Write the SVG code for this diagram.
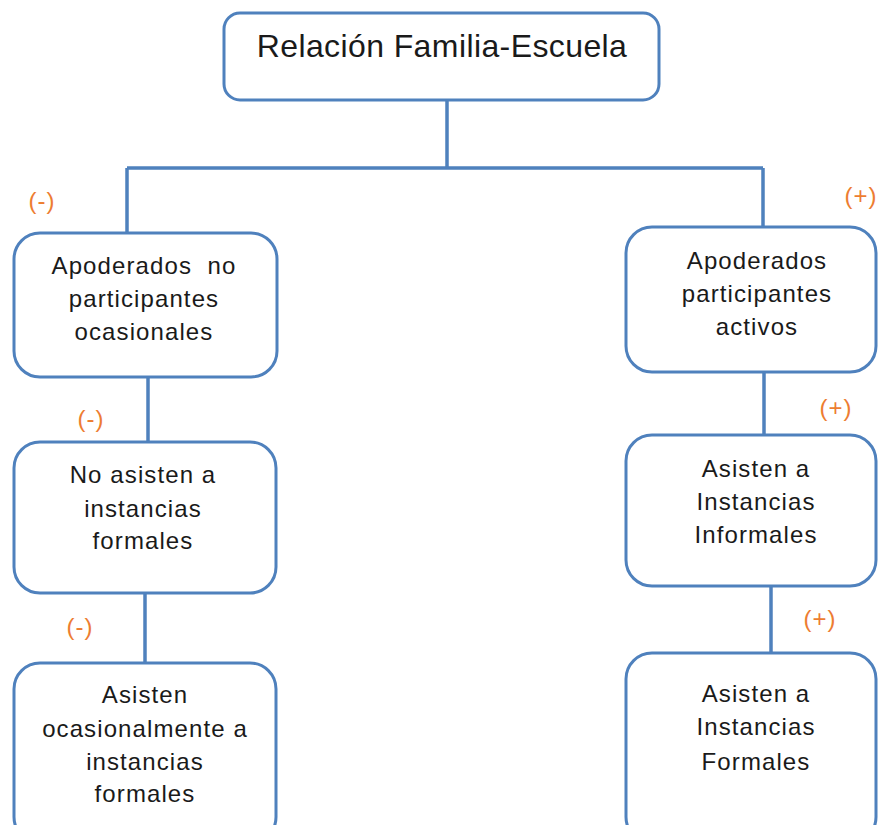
<svg xmlns="http://www.w3.org/2000/svg" width="878" height="825" viewBox="0 0 878 825">
<style>
.box{fill:#fff;stroke:#4F81BD;stroke-width:3}
.ln{fill:none;stroke:#4F81BD;stroke-width:3.5}
.t{font-family:"Liberation Sans",Arial,sans-serif;font-size:24px;fill:#1a1a1a;text-anchor:middle;letter-spacing:1.1px}
.title{font-family:"Liberation Sans",Arial,sans-serif;font-size:32px;fill:#1a1a1a;text-anchor:middle;letter-spacing:0.4px}
.sg{font-family:"Liberation Sans",Arial,sans-serif;font-size:24px;fill:#ED7D31;text-anchor:middle;letter-spacing:1px}
</style>
<rect width="878" height="825" fill="#fff"/>
<g id="connectors">
<path class="ln" d="M447,100 V168 M127,168 H763 M127,168 V233 M763,168 V227"/>
<path class="ln" d="M148,377 V442"/>
<path class="ln" d="M145,593 V663"/>
<path class="ln" d="M764,372 V435"/>
<path class="ln" d="M771,586 V653"/>
</g>
<g id="root">
<rect class="box" x="224" y="13" width="435" height="87" rx="16"/>
<text class="title" x="442" y="57">Relación Familia-Escuela</text>
</g>
<g id="left1">
<rect class="box" x="14" y="233" width="263" height="144" rx="26"/>
<text class="t" x="144" y="274" xml:space="preserve">Apoderados  no</text>
<text class="t" x="144" y="307">participantes</text>
<text class="t" x="144" y="340">ocasionales</text>
</g>
<g id="left2">
<rect class="box" x="14" y="442" width="262" height="151" rx="26"/>
<text class="t" x="143" y="483">No asisten a</text>
<text class="t" x="143" y="517">instancias</text>
<text class="t" x="143" y="549">formales</text>
</g>
<g id="left3">
<rect class="box" x="14" y="663" width="262" height="180" rx="26"/>
<text class="t" x="145" y="703">Asisten</text>
<text class="t" x="145" y="737">ocasionalmente a</text>
<text class="t" x="145" y="770">instancias</text>
<text class="t" x="145" y="802">formales</text>
</g>
<g id="right1">
<rect class="box" x="626" y="227" width="250" height="145" rx="26"/>
<text class="t" x="757" y="269">Apoderados</text>
<text class="t" x="757" y="302">participantes</text>
<text class="t" x="757" y="335">activos</text>
</g>
<g id="right2">
<rect class="box" x="626" y="435" width="250" height="151" rx="26"/>
<text class="t" x="756" y="477">Asisten a</text>
<text class="t" x="756" y="510">Instancias</text>
<text class="t" x="756" y="543">Informales</text>
</g>
<g id="right3">
<rect class="box" x="626" y="653" width="250" height="190" rx="26"/>
<text class="t" x="756" y="702">Asisten a</text>
<text class="t" x="756" y="735">Instancias</text>
<text class="t" x="756" y="770">Formales</text>
</g>
<g id="signs">
<text class="sg" x="42" y="209">(-)</text>
<text class="sg" x="91" y="427">(-)</text>
<text class="sg" x="80" y="635">(-)</text>
<text class="sg" x="861" y="204">(+)</text>
<text class="sg" x="836" y="416">(+)</text>
<text class="sg" x="820" y="627">(+)</text>
</g>
</svg>
